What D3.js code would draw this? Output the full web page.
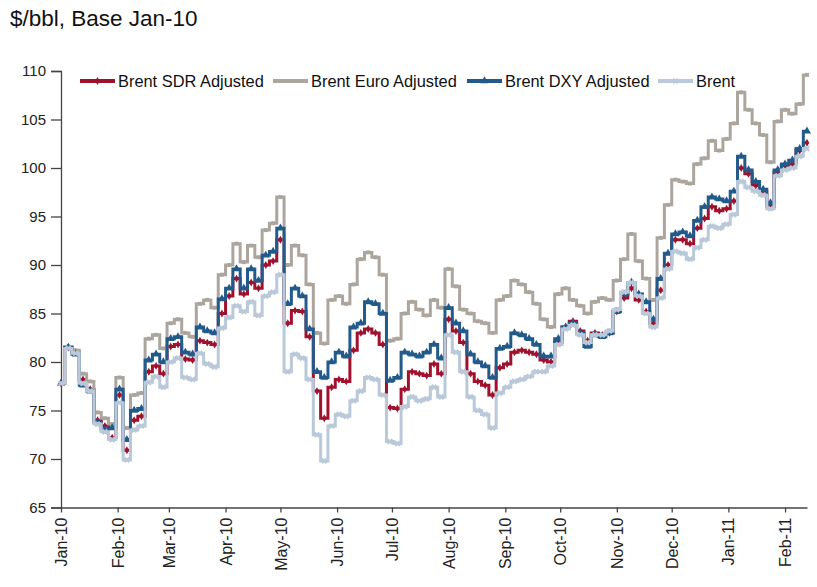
<!DOCTYPE html>
<html>
<head>
<meta charset="utf-8">
<script src="https://cdn.jsdelivr.net/npm/d3@7"></script>
<style>
  body { margin: 0; background: #fff; }
  svg { font-family: "Liberation Sans", Arial, sans-serif; }
</style>
</head>
<body>
<svg id="chart" width="817" height="587"></svg>
<script>
// x categories: one reading every 4 calendar days, Jan-10 .. Feb-11
var dates = d3.timeDay.range(new Date(2010, 0, 1), new Date(2011, 1, 14), 4);

// values ($/bbl)
var sdr = [77.8,81.5,81.0,78.2,77.2,74.0,73.4,72.2,76.6,70.9,74.0,74.4,79.0,79.6,78.8,81.6,81.8,80.3,80.2,82.2,
  82.0,81.8,85.0,86.8,88.6,87.0,88.2,87.6,90.0,90.4,92.6,84.0,85.3,85.2,82.6,77.0,74.2,77.4,78.2,78.0,
  81.2,83.0,83.4,83.0,81.8,75.3,75.2,77.2,79.0,78.8,78.6,79.8,78.8,84.4,83.2,82.0,78.8,78.0,77.6,76.6,
  79.4,79.8,81.0,81.2,81.0,80.8,80.2,80.0,82.0,83.6,84.2,83.2,82.2,83.0,82.8,83.0,85.2,86.6,87.6,86.4,
  85.2,84.0,87.4,90.0,92.6,92.6,92.2,93.8,94.8,96.0,95.6,95.8,96.6,100.0,99.4,98.2,97.6,96.0,99.6,100.2,
  100.4,101.8,102.6];
var euro = [77.8,81.6,81.2,78.8,78.0,74.8,74.2,73.6,78.4,73.2,76.6,76.8,82.4,82.8,81.4,84.0,84.4,83.0,82.6,86.0,
  86.4,85.6,89.0,90.0,92.2,90.3,92.0,90.8,93.6,94.3,97.0,90.0,92.0,91.0,88.0,83.0,81.9,86.4,86.8,86.0,
  88.0,90.6,91.3,90.8,89.0,82.2,82.4,85.0,86.2,85.4,84.8,86.4,85.6,89.6,87.8,85.4,85.0,84.2,84.0,83.0,
  86.4,86.8,88.4,88.0,87.2,86.0,84.4,83.6,87.0,87.6,86.4,85.8,85.0,86.2,86.6,86.4,88.4,90.6,93.2,90.4,
  88.6,86.4,92.8,96.2,98.8,98.6,98.4,100.4,101.0,102.8,101.8,103.0,104.6,107.8,106.0,104.6,103.4,100.6,104.8,106.0,
  105.6,106.6,109.6];
var dxy = [77.8,81.5,80.8,77.6,77.0,73.8,73.0,73.2,77.2,72.0,75.0,75.2,80.2,80.8,80.0,82.4,82.6,81.0,80.8,83.6,
  83.2,83.0,86.5,87.6,89.6,87.6,89.6,88.4,91.0,91.4,93.8,86.0,87.6,86.8,83.4,79.0,78.4,80.0,81.0,80.6,
  83.6,84.0,86.2,86.0,85.0,78.1,78.4,81.0,80.8,80.6,81.0,81.8,80.4,85.6,84.0,83.2,80.8,80.0,79.6,78.4,
  81.4,81.6,83.0,82.8,82.4,81.8,80.6,80.6,82.4,83.6,84.0,83.0,81.6,82.8,82.6,83.0,85.2,87.0,88.2,87.0,
  86.2,84.4,88.6,91.2,93.2,93.4,93.0,94.6,96.0,97.0,96.8,96.6,97.6,101.2,99.8,98.6,97.8,96.4,99.8,100.4,
  100.8,102.0,103.8];
var brent = [77.8,81.4,80.9,77.8,77.0,73.6,72.8,72.0,75.8,69.9,73.0,73.4,77.9,78.5,77.4,80.0,80.4,78.4,78.2,80.9,
  79.8,79.5,83.5,84.6,85.8,85.2,86.2,84.8,86.8,87.2,89.0,79.0,80.8,80.4,78.2,72.5,69.8,73.4,74.6,74.4,
  76.0,77.0,78.4,78.2,76.6,71.8,71.6,75.4,76.4,76.0,76.2,77.4,76.4,82.8,81.0,79.0,76.4,75.0,74.6,73.2,
  76.8,77.4,78.0,78.2,78.5,79.0,79.0,79.6,81.8,83.4,83.8,82.8,82.0,82.8,82.8,83.2,85.4,87.2,88.2,86.8,
  85.0,83.6,86.6,89.6,91.4,91.2,90.6,91.8,92.6,94.0,93.8,94.2,95.2,98.6,98.0,97.6,97.2,95.8,99.2,99.8,
  100.0,101.2,102.0];

var yTicks = [65, 70, 75, 80, 85, 90, 95, 100, 105, 110];
var xTicks = d3.timeMonth.range(new Date(2010, 0, 1), new Date(2011, 1, 2));

var series = [
  { name: 'Brent SDR Adjusted', values: sdr, color: '#a0112e', symbol: d3.symbolDiamond, size: 18, rot: 0 },
  { name: 'Brent Euro Adjusted', values: euro, color: '#aca59e', symbol: d3.symbolSquare, size: 16, rot: 0 },
  { name: 'Brent DXY Adjusted', values: dxy, color: '#225b8b', symbol: d3.symbolTriangle, size: 28, rot: 0 },
  { name: 'Brent', values: brent, color: '#b9c9d9', symbol: d3.symbolCross, size: 24, rot: 45 }
];

var svg = d3.select('#chart');

var x = d3.scaleTime()
  .domain([new Date(2010, 0, 1), new Date(2011, 1, 13)])
  .range([61, 807]);
var y = d3.scaleLinear().domain([65, 110]).range([507.5, 71]);

// title
svg.append('text')
  .attr('x', 10).attr('y', 26)
  .attr('font-size', 22.5).attr('fill', '#111')
  .text('$/bbl, Base Jan-10');

// y axis
var yAxis = svg.append('g')
  .attr('transform', 'translate(61,0)')
  .call(d3.axisLeft(y).tickValues(yTicks).tickSize(10).tickPadding(5));
yAxis.select('.domain').attr('stroke', '#444').attr('stroke-width', 1.3);
yAxis.selectAll('.tick line').attr('stroke', '#444').attr('stroke-width', 1.3);
yAxis.selectAll('.tick text').attr('font-size', 15).attr('fill', '#222')
  .attr('font-family', '"Liberation Sans", Arial, sans-serif');

// x axis
var xAxis = svg.append('g')
  .attr('transform', 'translate(0,507.5)')
  .call(d3.axisBottom(x).tickValues(xTicks).tickSize(5).tickSizeOuter(0)
    .tickFormat(d3.timeFormat('%b-%y')));
xAxis.select('.domain').attr('stroke', '#444').attr('stroke-width', 1.3);
xAxis.selectAll('.tick line').attr('stroke', '#444').attr('stroke-width', 1.3);
xAxis.selectAll('.tick text')
  .attr('font-size', 16).attr('fill', '#222')
  .attr('font-family', '"Liberation Sans", Arial, sans-serif')
  .attr('transform', 'rotate(-90)')
  .attr('text-anchor', 'end')
  .attr('x', -10).attr('y', 0).attr('dy', '0.35em');

var line = d3.line()
  .curve(d3.curveStep)
  .x(function(d, i) { return x(dates[i]); })
  .y(function(d) { return y(d); });

series.forEach(function(s) {
  var g = svg.append('g');
  g.append('path')
    .datum(s.values)
    .attr('d', line)
    .attr('fill', 'none')
    .attr('stroke', s.color)
    .attr('stroke-width', 3)
    .attr('stroke-linejoin', 'miter');
  g.selectAll('path.mk')
    .data(s.values)
    .enter()
    .append('path')
    .attr('class', 'mk')
    .attr('d', d3.symbol().type(s.symbol).size(s.size))
    .attr('fill', s.color)
    .attr('transform', function(d, i) {
      return 'translate(' + x(dates[i]) + ',' + y(d) + ') rotate(' + s.rot + ')';
    });
});

// legend
var legendX = [80, 273, 467, 658];
var legend = svg.append('g');
series.forEach(function(s, i) {
  var lg = legend.append('g').attr('transform', 'translate(' + legendX[i] + ',81)');
  lg.append('line')
    .attr('x1', 0).attr('x2', 35).attr('y1', 0).attr('y2', 0)
    .attr('stroke', s.color).attr('stroke-width', 4);
  lg.append('path')
    .attr('d', d3.symbol().type(s.symbol).size(s.size))
    .attr('fill', s.color)
    .attr('transform', 'translate(17.5,0) rotate(' + s.rot + ')');
  lg.append('text')
    .attr('x', 38).attr('y', 0).attr('dy', '0.35em')
    .attr('font-size', 16.4).attr('fill', '#111')
    .text(s.name);
});
</script>
</body>
</html>
